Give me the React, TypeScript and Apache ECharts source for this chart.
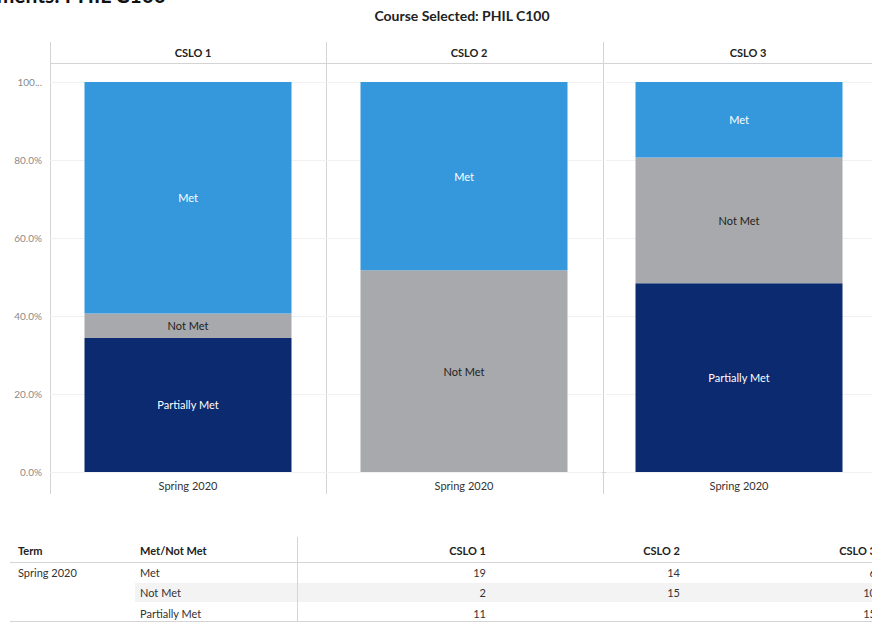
import React, { useEffect, useRef } from "react";
import * as echarts from "echarts";

const panels = ["CSLO 1", "CSLO 2", "CSLO 3"];
const term = "Spring 2020";
const statuses = ["Met", "Not Met", "Partially Met"];
const metCounts = [19, 14, 6];
const notMetCounts = [2, 15, 10];
const partiallyMetCounts: (number | null)[] = [11, null, 15];
const yTicks = [0, 20, 40, 60, 80, 100];

const FONT = "Lato, 'Open Sans', sans-serif";
const C_MET = "#3598DC";
const C_NOT = "#A7A9AC";
const C_PART = "#0B2A6F";

export default function App() {
  const ref = useRef<HTMLDivElement>(null);
  useEffect(() => {
    document.body.style.margin = "0";
    const chart = echarts.init(ref.current!, null, { renderer: "svg" });
    const W = 872;
    const panelLine = [50, 326, 603];
    const panelLeft = [50, 326, 606];
    const panelW = 276;
    const gridTop = 82;
    const gridBottomY = 472;

    const grids = panelLeft.map((l) => ({ left: l, top: gridTop, width: panelW, height: gridBottomY - gridTop }));
    const xAxes = panelLeft.map((_, i) => ({
      type: "category",
      gridIndex: i,
      data: [term],
      axisLine: { show: false },
      axisTick: { show: false },
      axisLabel: { color: "#333", fontSize: 11, fontFamily: FONT, margin: 8 },
    }));
    const yAxes = panelLeft.map((_, i) => ({
      type: "value",
      gridIndex: i,
      min: yTicks[0],
      max: yTicks[yTicks.length - 1],
      interval: 20,
      axisLine: { show: false },
      axisTick: { show: false },
      splitLine: { show: true, lineStyle: { color: "#f1f1f1", width: 1 } },
      axisLabel: {
        show: i === 0,
        color: "#8a8a8a",
        fontSize: 10,
        fontFamily: FONT,
        margin: 8,
        formatter: (v: number) => (v === 100 ? "100..." : v.toFixed(1) + "%"),
      },
    }));

    const series: any[] = [];
    panels.forEach((_, i) => {
      const total = (metCounts[i] || 0) + (notMetCounts[i] || 0) + (partiallyMetCounts[i] || 0);
      const defs = [
        { name: "Partially Met", val: partiallyMetCounts[i], color: C_PART, lc: "#fff" },
        { name: "Not Met", val: notMetCounts[i], color: C_NOT, lc: "#222" },
        { name: "Met", val: metCounts[i], color: C_MET, lc: "#fff" },
      ];
      defs.forEach((d) => {
        series.push({
          type: "bar",
          name: d.name,
          stack: "s" + i,
          xAxisIndex: i,
          yAxisIndex: i,
          barWidth: 207,
          data: [d.val == null ? null : (d.val / total) * 100],
          itemStyle: { color: d.color },
          label: {
            show: d.val != null,
            position: "inside",
            formatter: d.name,
            color: d.lc,
            fontSize: 11,
            fontFamily: FONT,
          },
        });
      });
    });

    const titles: any[] = [
      {
        text: "Course Selected: PHIL C100",
        left: 457,
        top: 3,
        textAlign: "center",
        textStyle: { fontSize: 14, fontWeight: "bold", color: "#222", fontFamily: FONT },
      },
      ...panels.map((p, i) => ({
        text: p,
        left: panelLine[i] + panelW / 2 + (i === 2 ? 2 : 0),
        top: 42,
        textAlign: "center",
        textStyle: { fontSize: 11, fontWeight: "bold", color: "#222", fontFamily: FONT },
      })),
    ];

    const lineC = "#d4d4d4";
    const graphics: any[] = [];
    // cut-off heading at top-left
    graphics.push({
      type: "text",
      x: 166,
      y: 5,
      style: { text: "Assessments: PHIL C100", align: "right", verticalAlign: "bottom", fontSize: 21, fontWeight: "bold", fill: "#111", fontFamily: FONT },
    });
    panelLine.forEach((l) => {
      graphics.push({ type: "line", shape: { x1: l + 0.5, y1: 42, x2: l + 0.5, y2: 494 }, style: { stroke: lineC, lineWidth: 1 } });
    });
    graphics.push({ type: "line", shape: { x1: 50, y1: 63.5, x2: W, y2: 63.5 }, style: { stroke: lineC, lineWidth: 1 } });
    graphics.push({ type: "line", shape: { x1: 50, y1: 472.5, x2: W, y2: 472.5 }, style: { stroke: lineC, lineWidth: 1 } });

    // table
    const rowY = [572, 592, 613];
    const colRight = [486, 680, 876];
    graphics.push({ type: "rect", shape: { x: 135, y: 583, width: W - 135, height: 19 }, style: { fill: "#f3f3f3" } });
    graphics.push({ type: "line", shape: { x1: 297.5, y1: 537, x2: 297.5, y2: 622 }, style: { stroke: lineC, lineWidth: 1 } });
    graphics.push({ type: "line", shape: { x1: 10, y1: 562.5, x2: W, y2: 562.5 }, style: { stroke: lineC, lineWidth: 1 } });
    graphics.push({ type: "line", shape: { x1: 10, y1: 621.5, x2: W, y2: 621.5 }, style: { stroke: lineC, lineWidth: 1 } });
    const hStyle = { fontSize: 11, fontWeight: "bold", fill: "#222", fontFamily: FONT, verticalAlign: "middle" };
    const cStyle = { fontSize: 11, fill: "#333", fontFamily: FONT, verticalAlign: "middle" };
    graphics.push({ type: "text", x: 18, y: 550, style: { ...hStyle, text: "Term" } });
    graphics.push({ type: "text", x: 140, y: 550, style: { ...hStyle, text: "Met/Not Met" } });
    panels.forEach((p, i) => {
      graphics.push({ type: "text", x: colRight[i], y: 550, style: { ...hStyle, text: p, align: "right" } });
    });
    graphics.push({ type: "text", x: 18, y: rowY[0], style: { ...cStyle, text: term } });
    const valueRows = [metCounts, notMetCounts, partiallyMetCounts];
    statuses.forEach((s, r) => {
      graphics.push({ type: "text", x: 140, y: rowY[r], style: { ...cStyle, text: s } });
      panels.forEach((_, i) => {
        const v = valueRows[r][i];
        if (v != null) {
          graphics.push({ type: "text", x: colRight[i], y: rowY[r], style: { ...cStyle, text: String(v), align: "right" } });
        }
      });
    });

    chart.setOption({
      animation: false,
      backgroundColor: "#fff",
      title: titles,
      grid: grids,
      xAxis: xAxes,
      yAxis: yAxes,
      series,
      graphic: graphics,
    });
    return () => chart.dispose();
  }, []);
  return <div ref={ref} style={{ width: 872, height: 623 }} />;
}
